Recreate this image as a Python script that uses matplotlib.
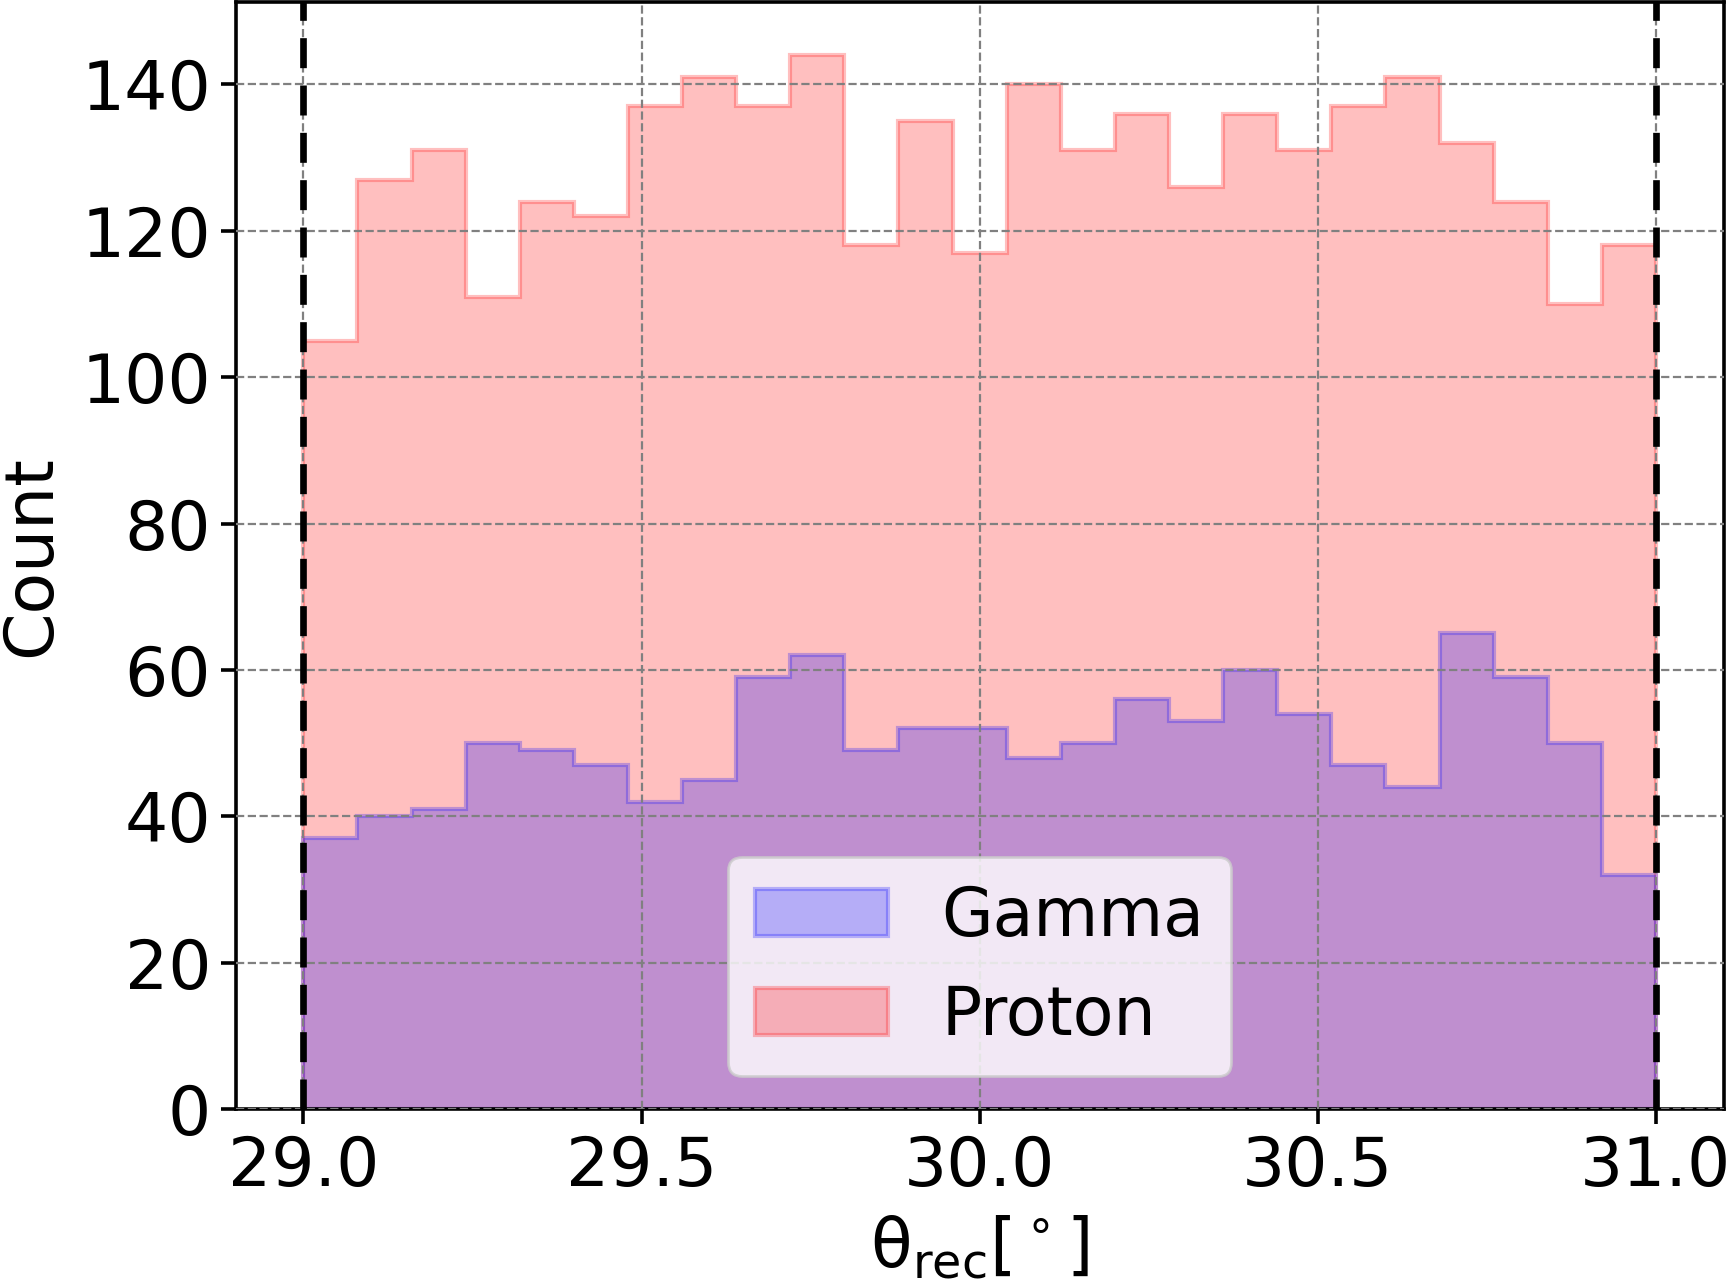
import numpy as np
import matplotlib
matplotlib.use("Agg")
from matplotlib import pyplot as plt

# bin edges of the theta_rec histogram (25 bins between 29 and 31 deg)
bin_lo = 29.0
bin_hi = 31.0
n_bins = 25

# counts per bin
proton_counts = [105, 127, 131, 111, 124, 122, 137, 141, 137, 144, 118, 135, 117,
                 140, 131, 136, 126, 136, 131, 137, 141, 132, 124, 110, 118]
gamma_counts = [37, 40, 41, 50, 49, 47, 42, 45, 59, 62, 49, 52, 52,
                48, 50, 56, 53, 60, 54, 47, 44, 65, 59, 50, 32]

cut_lines = [29.0, 31.0]
x_ticks = [29.0, 29.5, 30.0, 30.5, 31.0]

plt.rcParams['font.size'] = 24.5
plt.rcParams['axes.linewidth'] = 1.3

edges = np.linspace(bin_lo, bin_hi, n_bins + 1)
centers = 0.5 * (edges[:-1] + edges[1:])

fig = plt.figure(figsize=(1727 / 200, 1283 / 200), dpi=200)
ax = fig.add_axes([0.1365, 0.1356, 0.8615, 0.8625])

ax.hist(centers, bins=edges, weights=proton_counts, histtype='stepfilled',
        facecolor='red', edgecolor='red', alpha=0.25, linewidth=1.5, label='Proton')
ax.hist(centers, bins=edges, weights=gamma_counts, histtype='stepfilled',
        facecolor='blue', edgecolor='blue', alpha=0.25, linewidth=1.5, label='Gamma')

ax.grid(True, linestyle='--', color='gray', linewidth=0.8)
ax.set_axisbelow(False)

for xc in cut_lines:
    ax.axvline(xc, color='black', linestyle=(0, (4.5, 2.6)), linewidth=2.4, zorder=3)

ax.tick_params(length=5.4, width=1.3, pad=3.5)
ax.set_xticks(x_ticks)
ax.set_xlabel(r'θ$_{\rm rec}$[$^\circ$]', labelpad=5)
ax.set_ylabel('Count', labelpad=6)

handles, labels = ax.get_legend_handles_labels()
ax.legend(handles[::-1], labels[::-1], loc='lower center', fontsize=24)

fig.savefig('out.png', dpi=200)
